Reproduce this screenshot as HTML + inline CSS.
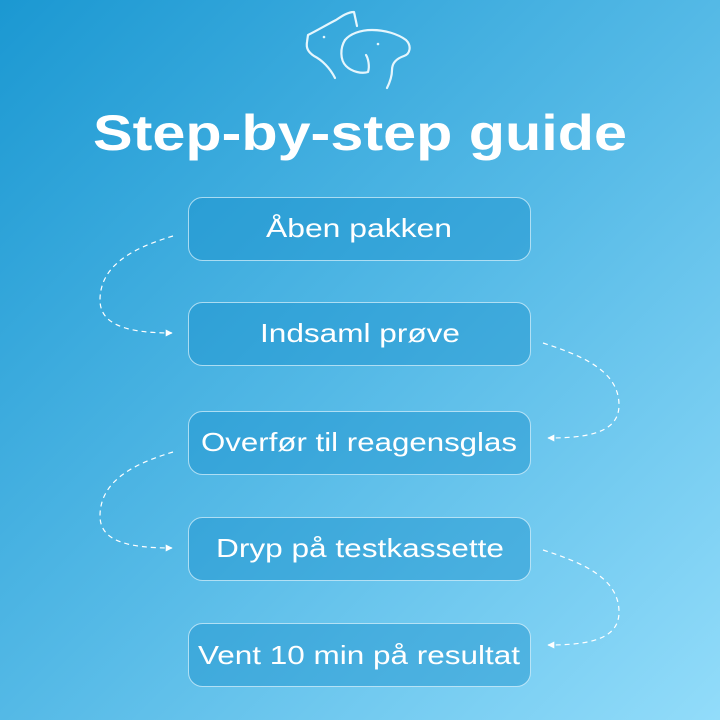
<!DOCTYPE html>
<html><head><meta charset="utf-8"><style>html,body{margin:0;padding:0;width:720px;height:720px;overflow:hidden}</style></head>
<body>
<svg width="720" height="720" viewBox="0 0 720 720" xmlns="http://www.w3.org/2000/svg">
<defs>
<linearGradient id="bg" x1="0" y1="0" x2="1" y2="1">
<stop offset="0" stop-color="#1b98d2"/><stop offset="0.5" stop-color="#54b9e6"/><stop offset="1" stop-color="#92dcfa"/>
</linearGradient>
<marker id="ar" viewBox="0 0 10 10" refX="9" refY="5" markerWidth="9" markerHeight="7" orient="auto" markerUnits="userSpaceOnUse"><path d="M0,0 L10,5 L0,10 z" fill="#fff"/></marker>
</defs>
<rect width="720" height="720" fill="url(#bg)"/>
<g fill="none" stroke="#e6f6fd" stroke-width="2.2" stroke-linecap="round" stroke-linejoin="round">
<path d="M335,78 C330,68 322,60 314,56 C308,52 306,48 307,42 L308,35 C318,30 328,24 336,20 C342,16 348,12 354,12 L357,26"/>
<path d="M345,40 C350,34 360,30 372,30 C385,30 398,34 406,40 C412,46 410,54 404,56 C398,58 392,62 392,70 C392,76 390,82 387,88"/>
<path d="M345,40 C340,48 340,60 346,66 C352,72 362,74 368,72 C370,66 368,58 366,55"/>
</g>
<circle cx="324" cy="37" r="1.3" fill="#e6f6fd"/><circle cx="378" cy="44" r="1.3" fill="#e6f6fd"/>
<text x="360" y="150" text-anchor="middle" font-family="Liberation Sans, sans-serif" font-weight="bold" font-size="50" fill="#fff" textLength="534" lengthAdjust="spacingAndGlyphs">Step-by-step guide</text>
<g fill="rgba(25,145,205,0.45)" stroke="rgba(220,242,252,0.7)" stroke-width="1">
<rect x="188.5" y="197.5" width="342" height="63" rx="14"/>
<rect x="188.5" y="302.5" width="342" height="63" rx="14"/>
<rect x="188.5" y="411.5" width="342" height="63" rx="14"/>
<rect x="188.5" y="517.5" width="342" height="63" rx="14"/>
<rect x="188.5" y="623.5" width="342" height="63" rx="14"/>
</g>
<g font-family="Liberation Sans, sans-serif" font-size="26" fill="#fff" text-anchor="middle">
<text x="359" y="237" textLength="186" lengthAdjust="spacingAndGlyphs">Åben pakken</text>
<text x="360" y="342" textLength="200" lengthAdjust="spacingAndGlyphs">Indsaml prøve</text>
<text x="359" y="451" textLength="316" lengthAdjust="spacingAndGlyphs">Overfør til reagensglas</text>
<text x="360" y="557" textLength="288" lengthAdjust="spacingAndGlyphs">Dryp på testkassette</text>
<text x="359" y="664" textLength="322" lengthAdjust="spacingAndGlyphs">Vent 10 min på resultat</text>
</g>
<g fill="none" stroke="#fff" stroke-width="1.2" stroke-dasharray="5,4" marker-end="url(#ar)">
<path d="M173,236 C140,246 100,262 100,300 C100,326 130,333 172,333"/>
<path d="M543,343 C580,355 619,370 619,405 C619,432 590,438 548,438"/>
<path d="M173,452 C140,462 100,478 100,516 C100,542 130,548 172,548"/>
<path d="M543,550 C580,562 619,577 619,612 C619,639 590,645 548,645"/>
</g>
</svg>
</body></html>
